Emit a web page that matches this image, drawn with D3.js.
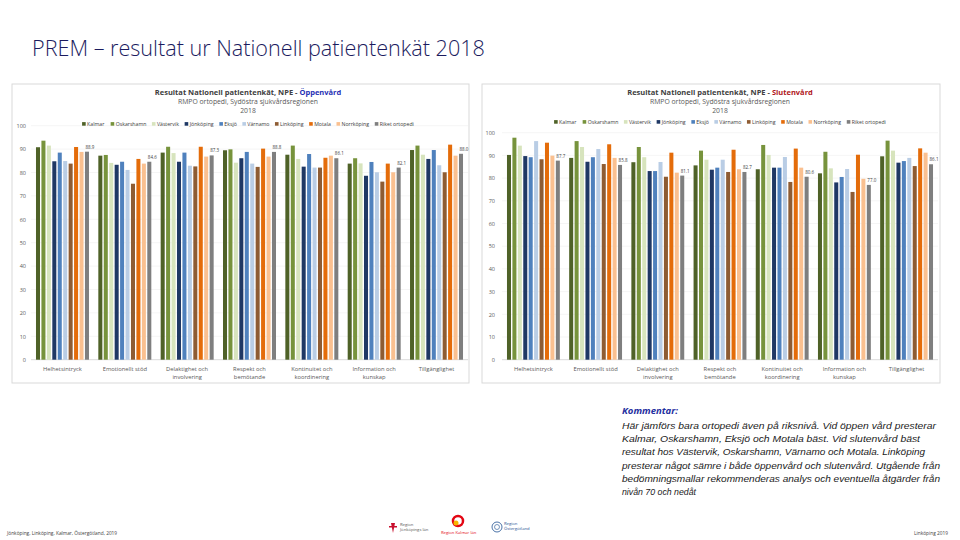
<!DOCTYPE html>
<html>
<head>
<meta charset="utf-8">
<script src="https://cdn.jsdelivr.net/npm/d3@7"></script>
<style>
  html, body { margin: 0; padding: 0; background: #fff; }
  svg { display: block; }
</style>
</head>
<body>
<div id="slide"></div>
<script>
// categories on the x axis (split into two lines where the chart wraps them)
const categories = [
  "Helhetsintryck",
  "Emotionellt stöd",
  "Delaktighet och|involvering",
  "Respekt och|bemötande",
  "Kontinuitet och|koordinering",
  "Information och|kunskap",
  "Tillgänglighet",
];

// the series (one bar per unit in each category)
const units = [
  "Kalmar", "Oskarshamn", "Västervik", "Jönköping", "Eksjö",
  "Värnamo", "Linköping", "Motala", "Norrköping", "Riket ortopedi",
];

const unitColors = [
  "#4f6228", "#77933c", "#d7e4bd", "#1f3864", "#4f81bd",
  "#b9cde5", "#8e5c33", "#e46c0a", "#fac090", "#7f7f7f",
];

// y axis ticks
const yTicks = [0, 10, 20, 30, 40, 50, 60, 70, 80, 90, 100];

// values, one row per category, one column per unit
const oppenvardValues = [
  [90.8, 93.6, 91.5, 84.8, 88.5, 84.9, 83.8, 90.9, 88.8, 88.9],
  [87.2, 87.5, 84.1, 83.3, 84.6, 81.1, 75.2, 85.8, 83.8, 84.6],
  [88.5, 91.0, 88.3, 84.6, 88.5, 82.9, 82.6, 91.0, 86.8, 87.3],
  [89.5, 89.9, 84.2, 86.1, 88.8, 83.8, 82.4, 90.2, 86.8, 88.8],
  [87.6, 91.5, 85.8, 82.5, 87.9, 82.1, 82.1, 86.3, 87.2, 86.1],
  [83.8, 86.1, 83.9, 78.6, 84.5, 80.1, 76.1, 83.8, 80.1, 82.1],
  [89.6, 91.5, 87.6, 85.8, 89.6, 83.1, 80.1, 91.9, 87.2, 88.0],
];

const slutenvardValues = [
  [90.2, 97.8, 94.3, 89.7, 89.2, 96.3, 88.3, 95.6, 89.9, 87.7],
  [88.9, 96.3, 93.7, 87.2, 89.2, 92.8, 86.2, 94.9, 88.9, 85.8],
  [87.0, 93.7, 89.2, 83.1, 83.1, 87.1, 80.6, 91.2, 82.4, 81.1],
  [85.6, 92.1, 88.1, 83.7, 84.6, 88.1, 82.7, 92.5, 83.9, 82.7],
  [83.9, 94.6, 90.2, 84.6, 84.6, 89.3, 78.3, 93.0, 84.6, 80.6],
  [82.1, 91.6, 84.3, 78.1, 80.5, 84.0, 73.9, 90.3, 79.7, 77.0],
  [89.6, 96.5, 92.1, 86.8, 87.5, 88.9, 85.3, 93.1, 91.2, 86.1],
];

const commentLines = [
  "Här jämförs bara ortopedi även på riksnivå. Vid öppen vård presterar",
  "Kalmar, Oskarshamn, Eksjö och Motala bäst. Vid slutenvård bäst",
  "resultat hos Västervik, Oskarshamn, Värnamo och Motala. Linköping",
  "presterar något sämre i både öppenvård och slutenvård. Utgående från",
  "bedömningsmallar rekommenderas analys och eventuella åtgärder från",
  "nivån 70 och nedåt",
];
// rendered widths of the comment lines in the slide
const commentWidths = [314, 298, 303, 318, 318, 74];

// layout of the two chart panels
const panels = [
  {
    values: oppenvardValues,
    kind: "Öppenvård",
    kindColor: "#1f2fb4",
    box: { x: 12, y: 84, w: 457, h: 299 },
    xRange: [31, 468],
    yRange: [359.7, 125.7],
    titleX: 248,
    legendY: 124,
    axisLabelX: 26,
  },
  {
    values: slutenvardValues,
    kind: "Slutenvård",
    kindColor: "#b0151b",
    box: { x: 482, y: 84, w: 458, h: 299 },
    xRange: [502, 938],
    yRange: [359.7, 132.7],
    titleX: 720,
    legendY: 122,
    axisLabelX: 495,
  },
];

const svg = d3
  .select("#slide")
  .append("svg")
  .attr("width", 960)
  .attr("height", 540)
  .style("font-family", "'Open Sans', 'DejaVu Sans', sans-serif");

// slide title
svg
  .append("text")
  .attr("x", 32)
  .attr("y", 56)
  .text("PREM – resultat ur Nationell patientenkät 2018")
  .style("font-size", "21.6px")
  .style("font-weight", 300)
  .style("fill", "#1b1b5e");

function drawChart(p) {
  const g = svg.append("g");

  // panel frame
  g.append("rect")
    .attr("x", p.box.x)
    .attr("y", p.box.y)
    .attr("width", p.box.w)
    .attr("height", p.box.h)
    .style("fill", "#fff")
    .style("stroke", "#d9d9d9");

  // titles
  const title = g
    .append("text")
    .attr("x", p.titleX)
    .attr("y", 94.5)
    .attr("text-anchor", "middle")
    .style("font-size", "7.5px")
    .style("font-weight", "bold")
    .style("fill", "#404040");
  title.append("tspan").text("Resultat Nationell patientenkät, NPE - ");
  title.append("tspan").text(p.kind).style("fill", p.kindColor);

  g.append("text")
    .attr("x", p.titleX)
    .attr("y", 104)
    .attr("text-anchor", "middle")
    .text("RMPO ortopedi, Sydöstra sjukvårdsregionen")
    .style("font-size", "6.8px")
    .style("fill", "#595959");

  g.append("text")
    .attr("x", p.titleX)
    .attr("y", 113)
    .attr("text-anchor", "middle")
    .text("2018")
    .style("font-size", "6.8px")
    .style("fill", "#595959");

  // scales
  const x0 = d3.scaleBand().domain(categories).range(p.xRange).paddingInner(0.15).paddingOuter(0.08);
  const x1 = d3.scaleBand().domain(units).range([0, x0.bandwidth()]).paddingInner(0.26);
  const y = d3.scaleLinear().domain([0, 100]).range(p.yRange);

  // grid lines
  g.selectAll(".grid")
    .data(yTicks.slice(1))
    .enter()
    .append("line")
    .attr("x1", p.xRange[0])
    .attr("x2", p.xRange[1])
    .attr("y1", (d) => y(d))
    .attr("y2", (d) => y(d))
    .style("stroke", "#efefef")
    .style("stroke-width", 0.6);

  // y axis labels
  const yAxis = g
    .append("g")
    .attr("transform", `translate(${p.axisLabelX},0)`)
    .call(d3.axisLeft(y).tickValues(yTicks).tickSize(0).tickPadding(0));
  yAxis.select(".domain").remove();
  yAxis.selectAll("text").style("font-size", "5.5px").style("fill", "#595959").style("font-family", "'Open Sans', sans-serif");

  // baseline
  g.append("line")
    .attr("x1", p.xRange[0])
    .attr("x2", p.xRange[1])
    .attr("y1", y(0))
    .attr("y2", y(0))
    .style("stroke", "#d0d0d0")
    .style("stroke-width", 0.8);

  // bars
  const groups = g
    .selectAll(".cat")
    .data(categories)
    .enter()
    .append("g")
    .attr("transform", (d) => `translate(${x0(d)},0)`);

  groups
    .selectAll("rect")
    .data((d, i) => p.values[i].map((v, j) => ({ unit: units[j], value: v, color: unitColors[j] })))
    .enter()
    .append("rect")
    .attr("x", (d) => x1(d.unit))
    .attr("width", x1.bandwidth())
    .attr("y", (d) => y(d.value))
    .attr("height", (d) => y(0) - y(d.value))
    .style("fill", (d) => d.color);

  // data labels only on the Riket series
  groups
    .append("text")
    .attr("x", (d, i) => x1(units[9]) + x1.bandwidth() / 2 + 3)
    .attr("y", (d, i) => y(p.values[i][9]) - 3)
    .attr("text-anchor", "middle")
    .text((d, i) => p.values[i][9].toFixed(1))
    .style("font-size", "4.5px")
    .style("fill", "#404040");

  // category labels
  const catLabels = g
    .selectAll(".catlabel")
    .data(categories)
    .enter()
    .append("text")
    .attr("x", (d) => x0(d) + x0.bandwidth() / 2)
    .attr("y", y(0) + 11)
    .attr("text-anchor", "middle")
    .style("font-size", "5.8px")
    .style("fill", "#595959");
  catLabels
    .selectAll("tspan")
    .data((d) => d.split("|").map((t) => ({ t, cx: x0(d) + x0.bandwidth() / 2 })))
    .enter()
    .append("tspan")
    .attr("x", (d) => d.cx)
    .attr("dy", (d, i) => (i === 0 ? 0 : 8.6))
    .text((d) => d.t);

  // legend
  const legend = g.append("g");
  const items = legend
    .selectAll("g")
    .data(units)
    .enter()
    .append("g");
  items
    .append("rect")
    .attr("width", 3.6)
    .attr("height", 3.6)
    .attr("y", -3.4)
    .style("fill", (d, i) => unitColors[i]);
  items
    .append("text")
    .attr("x", 5)
    .text((d) => d)
    .style("font-size", "5.2px")
    .style("fill", "#404040");
  const gap = 5.5;
  let cursor = 0;
  items.each(function () {
    const w = this.getBBox().width;
    d3.select(this).attr("transform", `translate(${cursor},0)`);
    cursor += w + gap;
  });
  cursor -= gap;
  legend.attr("transform", `translate(${p.titleX - cursor / 2},${p.legendY + 1.5})`);
}

panels.forEach(drawChart);

// comment box
const comment = svg.append("g").attr("transform", "translate(622,0)");
comment
  .append("text")
  .attr("y", 414)
  .text("Kommentar:")
  .attr("textLength", 56)
  .attr("lengthAdjust", "spacingAndGlyphs")
  .style("font-size", "9.5px")
  .style("font-weight", "bold")
  .style("font-style", "italic")
  .style("fill", "#1f2fa0");
comment
  .selectAll(".line")
  .data(commentLines)
  .enter()
  .append("text")
  .attr("y", (d, i) => 429 + i * 13.2)
  .text((d) => d)
  .attr("textLength", (d, i) => commentWidths[i])
  .attr("lengthAdjust", "spacingAndGlyphs")
  .style("font-size", "9.2px")
  .style("font-style", "italic")
  .style("fill", "#1a1a1a")
  .style("font-family", "'Liberation Sans Narrow', 'Liberation Sans', sans-serif");

// footer
svg
  .append("text")
  .attr("x", 7)
  .attr("y", 535)
  .text("Jönköping, Linköping, Kalmar, Östergötland, 2019")
  .style("font-size", "4.8px")
  .style("fill", "#404040");
svg
  .append("text")
  .attr("x", 948)
  .attr("y", 535)
  .attr("text-anchor", "end")
  .text("Linköping 2019")
  .style("font-size", "4.8px")
  .style("fill", "#404040");

// logos of the three regions
const logos = svg.append("g").style("font-size", "4.2px");
logos.append("path")
  .attr("d", "M391,523 L395,523 L393,533 Z M389,526 L397,526 L397,527.5 L389,527.5 Z")
  .style("fill", "#c8102e");
logos.append("text").attr("x", 400).attr("y", 526).text("Region").style("fill", "#555");
logos.append("text").attr("x", 400).attr("y", 531).text("Jönköpings län").style("fill", "#555");
logos.append("circle").attr("cx", 458).attr("cy", 521).attr("r", 5).style("fill", "none").style("stroke", "#e30613").style("stroke-width", 2.5);
logos.append("circle").attr("cx", 456).attr("cy", 523).attr("r", 2.5).style("fill", "#f7b500");
logos.append("text").attr("x", 441).attr("y", 534).text("Region Kalmar län").style("fill", "#e30613");
logos.append("circle").attr("cx", 497).attr("cy", 527).attr("r", 5).style("fill", "none").style("stroke", "#1d4f91").style("stroke-width", 0.8);
logos.append("circle").attr("cx", 497).attr("cy", 527).attr("r", 2.5).style("fill", "none").style("stroke", "#1d4f91").style("stroke-width", 0.6);
logos.append("text").attr("x", 504).attr("y", 525).text("Region").style("fill", "#1d4f91");
logos.append("text").attr("x", 504).attr("y", 530).text("Östergötland").style("fill", "#1d4f91");
</script>
</body>
</html>
